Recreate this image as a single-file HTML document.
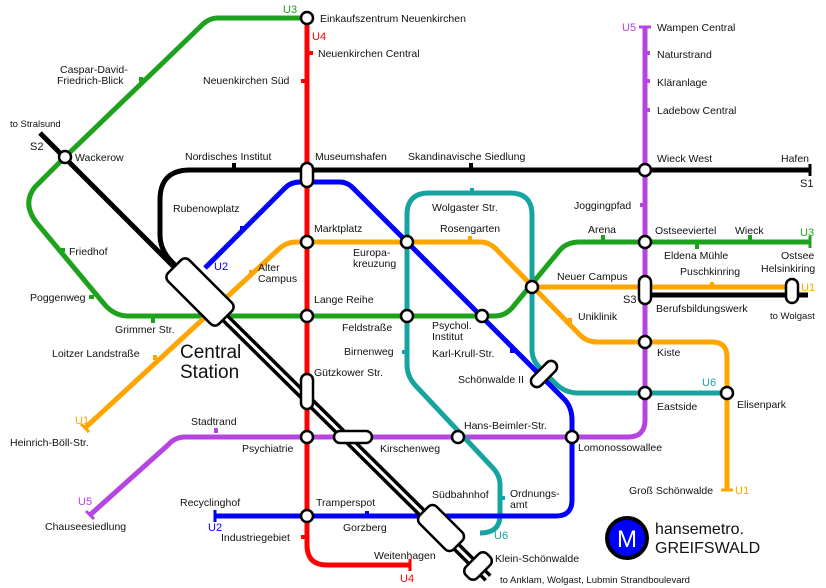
<!DOCTYPE html>
<html><head><meta charset="utf-8"><style>
html,body{margin:0;padding:0;background:#fff}
svg{display:block}
text{font-family:"Liberation Sans",sans-serif;font-size:10.5px;fill:#111}
.s{font-size:9.5px}
.l{font-size:11px}
.big{font-size:19px}
.logo{font-size:16px}
.m{font-size:24px;fill:#fff}
</style></head><body>
<svg width="826" height="588" viewBox="0 0 826 588" xmlns="http://www.w3.org/2000/svg">
<g fill="none" stroke-linejoin="round" stroke-width="5">
<path stroke="#1ea21e" d="M307,18 H218 Q208,18 200,27 L65,157 L35,187 Q22,203 36,222 L105,305 Q115,316 128,316 H495 Q505,316 512,308 L560,250 Q567,242 580,242 H810"/>
<path stroke="#b544e0" d="M645,27 V420 Q645,437 628,437 H185 Q175,437 168,445 L90,515"/>
<path stroke="#17a4a0" d="M480,533 Q500,533 500,515 V485 Q500,475 492,467 L415,385 Q407,376 407,365 V215 Q407,193 429,193 H510 Q532,193 532,215 V350 Q532,360 540,368 L555,383 Q565,393 578,393 H727"/>
<path stroke="#ffa500" d="M85,428 L280,248 Q287,242 297,242 H480 Q490,242 497,250 L580,335 Q587,342 597,342 H712 Q727,342 727,357 V490"/>
<path stroke="#ffa500" d="M532,287 H795"/>
<path stroke="#0000ff" d="M205,268 L285,188 Q291,182 300,182 H340 Q348,182 355,190 L565,400 Q572,408 572,420 V500 Q572,516 556,516 H215"/>
<path stroke="#ff0000" d="M307,18 V545 Q307,565 327,565 H410"/>
<path stroke="#000" d="M200,290 L172,262 Q160,250 160,235 V200 Q160,170 190,170 H810"/>
<path stroke="#000" d="M645,295 H808"/>
<path stroke="#000" d="M40,133 L220,313"/>
<path stroke="#000" stroke-width="10" d="M210,303 L488,578"/>
<path stroke="#fff" stroke-width="3" d="M210,303 L488,578"/>
</g>
<g stroke-width="3">
<line x1="215" y1="510" x2="215" y2="522" stroke="#0000ff"/>
<line x1="410" y1="559" x2="410" y2="571" stroke="#ff0000"/>
<line x1="810" y1="236" x2="810" y2="248" stroke="#1ea21e"/>
<line x1="810" y1="164" x2="810" y2="176" stroke="#000"/>
<line x1="639" y1="27" x2="651" y2="27" stroke="#b544e0"/>
<line x1="721" y1="490" x2="733" y2="490" stroke="#ffa500"/>
<line x1="81" y1="424" x2="89" y2="432" stroke="#ffa500"/>
<line x1="86" y1="511" x2="94" y2="519" stroke="#b544e0"/>
</g>
<g>
<rect x="139" y="77" width="4" height="5" fill="#1ea21e"/>
<rect x="60" y="248" width="5" height="4" fill="#1ea21e"/>
<rect x="89" y="295" width="5" height="4" fill="#1ea21e"/>
<rect x="151" y="318" width="4" height="5" fill="#1ea21e"/>
<rect x="601" y="235" width="4" height="5" fill="#1ea21e"/>
<rect x="695" y="244" width="4" height="5" fill="#1ea21e"/>
<rect x="748" y="235" width="4" height="5" fill="#1ea21e"/>
<rect x="309" y="51" width="4" height="4" fill="#ff0000"/>
<rect x="301" y="79" width="4" height="4" fill="#ff0000"/>
<rect x="301" y="535" width="4" height="4" fill="#ff0000"/>
<rect x="645" y="51" width="5" height="4" fill="#b544e0"/>
<rect x="645" y="79" width="5" height="4" fill="#b544e0"/>
<rect x="645" y="108" width="5" height="4" fill="#b544e0"/>
<rect x="640" y="203" width="5" height="4" fill="#b544e0"/>
<rect x="214" y="428" width="4" height="5" fill="#b544e0"/>
<rect x="232" y="163" width="4" height="5" fill="#000"/>
<rect x="469" y="163" width="4" height="5" fill="#000"/>
<rect x="240" y="226" width="5" height="4" fill="#0000ff"/>
<rect x="510" y="349" width="4" height="4" fill="#0000ff"/>
<rect x="365" y="511" width="4" height="5" fill="#0000ff"/>
<rect x="249" y="270" width="4" height="5" fill="#ffa500"/>
<rect x="468" y="236" width="4" height="5" fill="#ffa500"/>
<rect x="568" y="318" width="4" height="5" fill="#ffa500"/>
<rect x="710" y="282" width="4" height="5" fill="#ffa500"/>
<rect x="153" y="355" width="4" height="5" fill="#ffa500"/>
<rect x="470" y="188" width="4" height="5" fill="#17a4a0"/>
<rect x="402" y="350" width="5" height="4" fill="#17a4a0"/>
<rect x="500" y="496" width="5" height="4" fill="#17a4a0"/>
</g>
<g fill="#fff" stroke="#000" stroke-width="2.5">
<circle cx="307" cy="18" r="6"/>
<circle cx="65" cy="157" r="6"/>
<circle cx="307" cy="242" r="6"/>
<circle cx="407" cy="242" r="6"/>
<circle cx="307" cy="316" r="6"/>
<circle cx="407" cy="316" r="6"/>
<circle cx="482" cy="316" r="6"/>
<circle cx="532" cy="287" r="6"/>
<circle cx="645" cy="170" r="6"/>
<circle cx="645" cy="242" r="6"/>
<circle cx="645" cy="342" r="6"/>
<circle cx="645" cy="393" r="6"/>
<circle cx="727" cy="393" r="6"/>
<circle cx="572" cy="437" r="6"/>
<circle cx="458" cy="437" r="6"/>
<circle cx="307" cy="437" r="6"/>
<circle cx="307" cy="516" r="6"/>
<rect x="301" y="163" width="12" height="24" rx="6"/>
<rect x="301" y="374" width="12" height="35" rx="6"/>
<rect x="334" y="431" width="38" height="12" rx="6"/>
<rect x="639" y="276" width="12" height="28" rx="6"/>
<rect x="786" y="279" width="12" height="24" rx="6"/>
<rect x="-16" y="-6" width="32" height="12" rx="6" transform="translate(544,374) rotate(-45)"/>
<rect x="-36" y="-15" width="72" height="30" rx="6" transform="translate(200,292) rotate(45)"/>
<rect x="-24" y="-12" width="48" height="24" rx="6" transform="translate(441,528) rotate(45)"/>
<rect x="-15" y="-8" width="30" height="16" rx="6" transform="translate(478,566) rotate(-45)"/>
</g>
<g>
<text class="l" x="283" y="13" style="fill:#1ea21e">U3</text>
<text class="l" x="312" y="40" style="fill:#ff0000">U4</text>
<text class="l" x="400" y="582" style="fill:#ff0000">U4</text>
<text class="l" x="622" y="31" style="fill:#b544e0">U5</text>
<text class="l" x="800" y="236" style="fill:#1ea21e">U3</text>
<text class="l" x="801" y="291" style="fill:#ffa500">U1</text>
<text class="l" x="735" y="494" style="fill:#ffa500">U1</text>
<text class="l" x="75" y="424" style="fill:#ffa500">U1</text>
<text class="l" x="78" y="505" style="fill:#b544e0">U5</text>
<text class="l" x="214" y="270" style="fill:#0000ff">U2</text>
<text class="l" x="208" y="531" style="fill:#0000ff">U2</text>
<text class="l" x="702" y="386" style="fill:#17a4a0">U6</text>
<text class="l" x="494" y="539" style="fill:#17a4a0">U6</text>
<text class="l" x="30" y="150">S2</text>
<text class="l" x="800" y="187">S1</text>
<text class="l" x="623" y="303">S3</text>
</g>
<g>
<text x="320" y="22">Einkaufszentrum Neuenkirchen</text>
<text x="318" y="57">Neuenkirchen Central</text>
<text x="203" y="84">Neuenkirchen Süd</text>
<text x="60" y="73">Caspar-David-</text>
<text x="57" y="84">Friedrich-Blick</text>
<text class="s" x="10" y="127">to Stralsund</text>
<text x="75" y="161">Wackerow</text>
<text x="185" y="160">Nordisches Institut</text>
<text x="315" y="160">Museumshafen</text>
<text x="408" y="160">Skandinavische Siedlung</text>
<text x="173" y="212">Rubenowplatz</text>
<text x="314" y="232">Marktplatz</text>
<text x="69" y="255">Friedhof</text>
<text x="258" y="271">Alter</text>
<text x="258" y="282">Campus</text>
<text x="353" y="256">Europa-</text>
<text x="353" y="267">kreuzung</text>
<text x="432" y="211">Wolgaster Str.</text>
<text x="440" y="232">Rosengarten</text>
<text x="30" y="301">Poggenweg</text>
<text x="115" y="333">Grimmer Str.</text>
<text x="314" y="303">Lange Reihe</text>
<text x="342" y="331">Feldstraße</text>
<text x="432" y="329">Psychol.</text>
<text x="432" y="340">Institut</text>
<text x="52" y="357">Loitzer Landstraße</text>
<text x="344" y="355">Birnenweg</text>
<text x="432" y="357">Karl-Krull-Str.</text>
<text x="314" y="376">Gützkower Str.</text>
<text x="458" y="383">Schönwalde II</text>
<text x="191" y="425">Stadtrand</text>
<text x="464" y="429">Hans-Beimler-Str.</text>
<text x="10" y="446">Heinrich-Böll-Str.</text>
<text x="242" y="452">Psychiatrie</text>
<text x="380" y="452">Kirschenweg</text>
<text x="578" y="451">Lomonossowallee</text>
<text x="180" y="506">Recyclinghof</text>
<text x="316" y="506">Tramperspot</text>
<text x="432" y="498">Südbahnhof</text>
<text x="510" y="497">Ordnungs-</text>
<text x="510" y="508">amt</text>
<text x="343" y="531">Gorzberg</text>
<text x="221" y="541">Industriegebiet</text>
<text x="45" y="530">Chauseesiedlung</text>
<text x="374" y="559">Weitenhagen</text>
<text x="495" y="562">Klein-Schönwalde</text>
<text class="s" x="500" y="583">to Anklam, Wolgast, Lubmin Strandboulevard</text>
<text x="657" y="31">Wampen Central</text>
<text x="657" y="58">Naturstrand</text>
<text x="657" y="86">Kläranlage</text>
<text x="657" y="114">Ladebow Central</text>
<text x="657" y="162">Wieck West</text>
<text x="781" y="162">Hafen</text>
<text x="574" y="209">Joggingpfad</text>
<text x="588" y="233">Arena</text>
<text x="655" y="234">Ostseeviertel</text>
<text x="735" y="234">Wieck</text>
<text x="664" y="259">Eldena Mühle</text>
<text x="781" y="259">Ostsee</text>
<text x="761" y="272">Helsinkiring</text>
<text x="680" y="275">Puschkinring</text>
<text x="557" y="280">Neuer Campus</text>
<text x="656" y="312">Berufsbildungswerk</text>
<text class="s" x="770" y="319">to Wolgast</text>
<text x="578" y="320">Uniklinik</text>
<text x="657" y="356">Kiste</text>
<text x="657" y="410">Eastside</text>
<text x="737" y="408">Elisenpark</text>
<text x="629" y="494">Groß Schönwalde</text>
<text class="big" x="180" y="358">Central</text>
<text class="big" x="180" y="378">Station</text>
</g>
<circle cx="627" cy="538" r="20" fill="#0000ff" stroke="#000" stroke-width="4"/>
<text class="m" x="627" y="547" text-anchor="middle">M</text>
<text class="logo" x="655" y="534">hansemetro.</text>
<text class="logo" x="655" y="553">GREIFSWALD</text>
</svg>
</body></html>
